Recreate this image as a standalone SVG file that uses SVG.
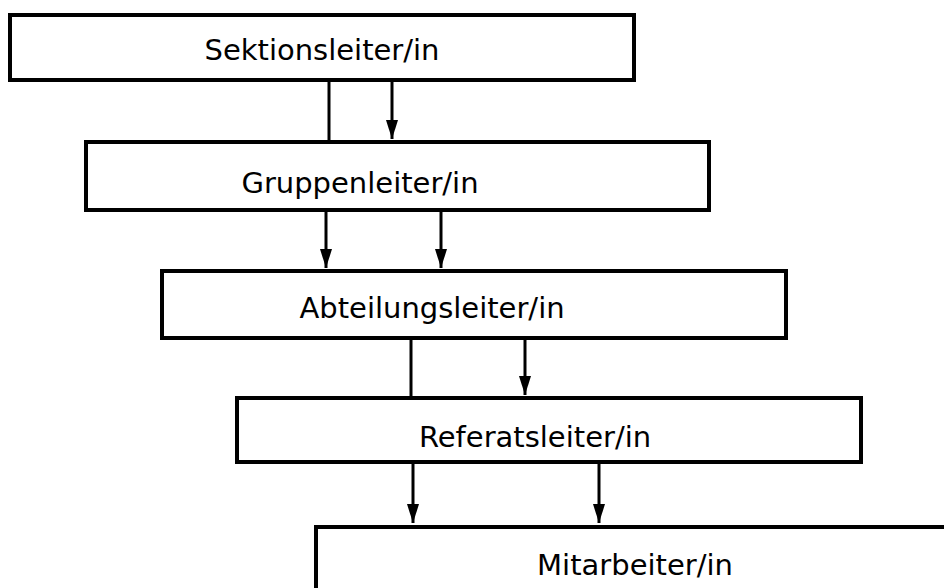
<svg xmlns="http://www.w3.org/2000/svg" width="944" height="588" viewBox="0 0 944 588">
<defs>
<style>
.box{fill:#fff;stroke:#000;stroke-width:4}
.t{font-family:"DejaVu Sans",Verdana,sans-serif;font-size:29px;fill:#000;text-anchor:middle}
.c{stroke:#000;stroke-width:3;fill:none}
</style>
<marker id="ah" markerUnits="userSpaceOnUse" markerWidth="19" markerHeight="12" refX="19" refY="6" orient="auto" viewBox="0 0 19 12">
<path d="M0,0 L19,6 L0,12 Z" fill="#000"/>
</marker>
</defs>
<rect width="944" height="588" fill="#fff"/>
<g id="connectors">
<line class="c" x1="329" y1="82" x2="329" y2="140"/>
<line class="c" x1="392" y1="82" x2="392" y2="139" marker-end="url(#ah)"/>
<line class="c" x1="326" y1="212" x2="326" y2="268" marker-end="url(#ah)"/>
<line class="c" x1="441" y1="212" x2="441" y2="268" marker-end="url(#ah)"/>
<line class="c" x1="411" y1="340" x2="411" y2="396"/>
<line class="c" x1="525" y1="340" x2="525" y2="395" marker-end="url(#ah)"/>
<line class="c" x1="413" y1="464" x2="413" y2="523" marker-end="url(#ah)"/>
<line class="c" x1="599" y1="464" x2="599" y2="523" marker-end="url(#ah)"/>
</g>
<g id="n1"><rect class="box" x="10" y="15" width="624" height="65"/><text class="t" x="322" y="60">Sektionsleiter/in</text></g>
<g id="n2"><rect class="box" x="86" y="142" width="623" height="68"/><text class="t" x="360" y="193">Gruppenleiter/in</text></g>
<g id="n3"><rect class="box" x="162" y="271" width="624" height="67"/><text class="t" x="432" y="318">Abteilungsleiter/in</text></g>
<g id="n4"><rect class="box" x="237" y="398" width="624" height="64"/><text class="t" x="535" y="447">Referatsleiter/in</text></g>
<g id="n5"><rect class="box" x="316" y="527" width="660" height="80"/><text class="t" x="635" y="575">Mitarbeiter/in</text></g>
</svg>
